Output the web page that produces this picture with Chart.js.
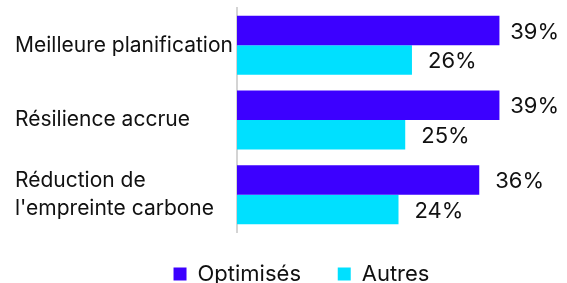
<!DOCTYPE html>
<html><head><meta charset="utf-8">
<script src="https://cdn.jsdelivr.net/npm/chart.js@4"></script>
<style>html,body{margin:0;padding:0;background:#fff}#w{width:567px;height:283px}</style>
</head><body><div id="w"><canvas id="c"></canvas></div>
<script>
const categories = [["Meilleure planification"], ["Résilience accrue"], ["Réduction de", "l'empreinte carbone"]];
const seriesNames = ["Optimisés", "Autres"];
const optimises = [39, 39, 36];
const autres = [26, 25, 24];
const colors = ["#3C00FF", "#00E0FF"];
const FONT = "Inter, 'Liberation Sans', sans-serif";
const FS = 21;
const LFS = 22;

const valueLabels = {
  id: 'valueLabels',
  afterDatasetsDraw(chart) {
    const ctx = chart.ctx;
    ctx.save();
    ctx.font = LFS + "px " + FONT;
    ctx.fillStyle = "#111";
    ctx.textAlign = "left";
    ctx.textBaseline = "middle";
    chart.data.datasets.forEach((ds, i) => {
      chart.getDatasetMeta(i).data.forEach((bar, j) => {
        const t = ds.data[j] + "%";
        const w = ctx.measureText(t).width;
        const x = Math.min(bar.x + 16, chart.width - 8 - w);
        ctx.fillText(t, x, bar.y + 1.5);
      });
    });
    ctx.restore();
  }
};

const legendShift = {
  id: 'legendShift',
  afterLayout(chart) {
    if (chart.legend) { chart.legend.left += 14; chart.legend.right += 14; }
  }
};

new Chart(document.getElementById('c'), {
  type: 'bar',
  data: {
    labels: categories,
    datasets: [
      { label: seriesNames[0], data: optimises, backgroundColor: colors[0] },
      { label: seriesNames[1], data: autres, backgroundColor: colors[1] }
    ]
  },
  plugins: [valueLabels, legendShift],
  options: {
    indexAxis: 'y',
    responsive: true,
    maintainAspectRatio: false,
    animation: false,
    layout: { padding: { left: 15, right: 7, top: 8, bottom: -12 } },
    datasets: { bar: { barPercentage: 1, categoryPercentage: 0.79 } },
    scales: {
      x: {
        display: true, min: 0, max: 48,
        grid: { display: false }, border: { display: false },
        ticks: { display: false },
        afterFit(scale) { scale.height = 19; scale.paddingLeft = 0; scale.paddingRight = 0; }
      },
      y: {
        grid: { display: false },
        border: { display: true, color: '#d4d4d4', width: 2 },
        ticks: { color: '#111', font: { family: FONT, size: FS, lineHeight: 1.3 }, crossAlign: 'far', padding: 4 },
        afterFit(scale) { scale.width = 222; scale.paddingTop = 0; scale.paddingBottom = 0; }
      }
    },
    plugins: {
      legend: {
        position: 'bottom',
        labels: {
          color: '#111', font: { family: FONT, size: LFS }, boxWidth: 13, boxHeight: 13, padding: 12,
          generateLabels(chart) {
            const items = Chart.defaults.plugins.legend.labels.generateLabels(chart);
            items[0].text = items[0].text + "\u00a0\u00a0\u00a0\u00a0";
            items.forEach(it => { it.lineWidth = 0; });
            return items;
          }
        }
      },
      tooltip: { enabled: false }
    }
  }
});
</script></body></html>
